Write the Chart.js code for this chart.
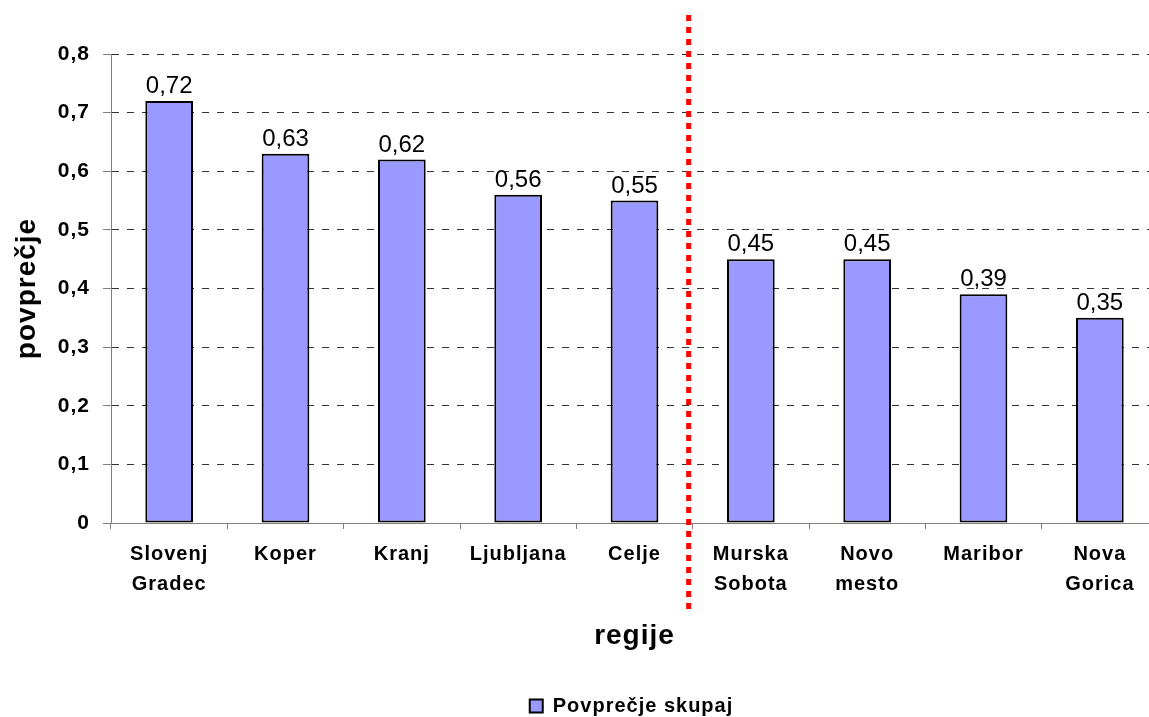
<!DOCTYPE html>
<html>
<head>
<meta charset="utf-8">
<script src="https://cdn.jsdelivr.net/npm/chart.js@4/dist/chart.umd.min.js"></script>
<style>
  html, body { margin: 0; padding: 0; background: #fff; overflow: hidden; }
  #wrap { position: relative; width: 1149px; height: 717px; overflow: hidden; }
  #c { position: absolute; left: 0; top: 0; }
</style>
</head>
<body>
<div id="wrap"><canvas id="c" width="1160" height="717"></canvas></div>
<script>
// Regions and their average scores
const regions = [
  ['Slovenj', 'Gradec'], 'Koper', 'Kranj', 'Ljubljana', 'Celje',
  ['Murska', 'Sobota'], ['Novo', 'mesto'], 'Maribor', ['Nova', 'Gorica']
];
const averages = [0.72, 0.63, 0.62, 0.56, 0.55, 0.45, 0.45, 0.39, 0.35];
const seriesName = 'Povprečje skupaj';
const yTicks = [0, 0.1, 0.2, 0.3, 0.4, 0.5, 0.6, 0.7, 0.8];
// the dividing line sits after this many regions
const splitAfter = 5;

const FONT = '"Liberation Sans", Arial, sans-serif';
const X_AXIS_H = 162;

const fmt = v => v === 0 ? '0' : v.toFixed(2).replace(/0$/, '').replace('.', ',');

// wider tracking for the bold axis and legend text
const tracking = {
  id: 'tracking',
  beforeDraw(chart) { chart.ctx.letterSpacing = '1px'; },
  beforeDatasetsDraw(chart) { chart.ctx.letterSpacing = '0px'; }
};

// centre the legend under the plot area and drop it a little lower
const legendPlacement = {
  id: 'legendPlacement',
  afterLayout(chart) {
    const lg = chart.legend;
    if (!lg) return;
    const ca = chart.chartArea;
    const dx = (ca.left + ca.right) / 2 - (lg.left + lg.right) / 2 - 11;
    lg.left += dx; lg.right += dx;
    lg.top += 9; lg.bottom += 9;
  }
};

const valueLabels = {
  id: 'valueLabels',
  afterDatasetsDraw(chart) {
    const ctx = chart.ctx;
    const meta = chart.getDatasetMeta(0);
    ctx.save();
    ctx.letterSpacing = '0px';
    ctx.font = '24px ' + FONT;
    ctx.fillStyle = '#000';
    ctx.textAlign = 'center';
    ctx.textBaseline = 'alphabetic';
    meta.data.forEach((bar, i) => {
      ctx.fillText(fmt(averages[i]), bar.x, bar.y - 8);
    });
    ctx.restore();
  }
};

const divider = {
  id: 'divider',
  afterDraw(chart) {
    const xs = chart.scales.x;
    const x = (xs.getPixelForValue(splitAfter - 1) + xs.getPixelForValue(splitAfter)) / 2 - 4;
    const ctx = chart.ctx;
    ctx.save();
    ctx.strokeStyle = '#ff0000';
    ctx.lineWidth = 5;
    ctx.setLineDash([6, 6]);
    ctx.beginPath();
    ctx.moveTo(x, 15);
    ctx.lineTo(x, 609);
    ctx.stroke();
    ctx.restore();
  }
};

new Chart(document.getElementById('c'), {
  type: 'bar',
  data: {
    labels: regions,
    datasets: [{
      label: seriesName,
      data: averages,
      backgroundColor: '#9999ff',
      borderColor: '#000000',
      borderWidth: 2,
      borderSkipped: false,
      barPercentage: 0.41,
      categoryPercentage: 1.0
    }]
  },
  options: {
    responsive: false,
    animation: false,
    devicePixelRatio: 1,
    layout: { padding: { top: 54, left: 0, right: 2, bottom: 0 } },
    plugins: {
      tooltip: { enabled: false },
      legend: {
        display: true,
        position: 'bottom',
        align: 'center',
        labels: {
          color: '#000',
          font: { family: FONT, size: 20, weight: 'bold' },
          boxWidth: 13,
          boxHeight: 13,
          padding: 2
        }
      }
    },
    scales: {
      x: {
        afterFit(s) { s.height = X_AXIS_H; },
        grid: {
          offset: true,
          drawOnChartArea: false,
          drawTicks: true,
          tickLength: 6,
          tickColor: '#808080'
        },
        border: { color: '#808080', width: 1 },
        ticks: {
          color: '#000',
          padding: 10,
          maxRotation: 0,
          autoSkip: false,
          font: { family: FONT, size: 20, weight: 'bold', lineHeight: 1.5 }
        },
        title: {
          display: true,
          text: 'regije',
          color: '#000',
          padding: { top: 0, bottom: X_AXIS_H - 113 - 17 },
          font: { family: FONT, size: 28, weight: 'bold' }
        }
      },
      y: {
        min: 0,
        max: 0.8,
        afterFit(s) { s.width = 111; },
        afterBuildTicks(s) { s.ticks = yTicks.map(v => ({ value: v })); },
        grid: {
          color: ctx => (ctx.tick && ctx.tick.value === 0) ? 'rgba(0,0,0,0)' : '#333333',
          lineWidth: 1,
          tickColor: '#808080',
          tickLength: 8,
          tickBorderDash: [],
          drawTicks: true
        },
        border: { color: '#808080', width: 1, dash: [7, 8] },
        ticks: {
          color: '#000',
          padding: 13,
          callback: v => fmt(v),
          font: { family: FONT, size: 21, weight: 'bold' }
        },
        title: {
          display: true,
          text: 'povprečje',
          color: '#000',
          padding: { top: 10, bottom: 0 },
          font: { family: FONT, size: 28, weight: 'bold' }
        }
      }
    }
  },
  plugins: [tracking, legendPlacement, valueLabels, divider]
});
</script>
</body>
</html>
